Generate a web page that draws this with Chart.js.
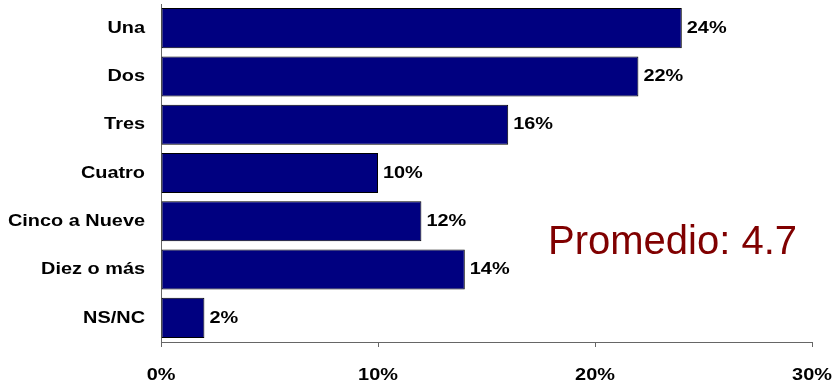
<!DOCTYPE html>
<html>
<head>
<meta charset="utf-8">
<script src="https://cdn.jsdelivr.net/npm/chart.js@4"></script>
<style>
    body { margin: 0; background: #fff; }
    #grafico { width: 835px; height: 385px; }
</style>
</head>
<body>
<div id="grafico"><canvas id="graficoHijos"></canvas></div>
<script>
const categorias = ['Una', 'Dos', 'Tres', 'Cuatro', 'Cinco a Nueve', 'Diez o más', 'NS/NC'];
const porcentajes = [24, 22, 16, 10, 12, 14, 2];
const ticksX = [0, 10, 20, 30];
const textoPromedio = 'Promedio: 4.7';

const fuente = "'Liberation Sans', Arial, sans-serif";
const estirar = 1.17; // el texto original sale un poco ensanchado

// escribe texto en negrita ensanchado horizontalmente
function textoAncho(ctx, texto, x, y, align) {
    ctx.save();
    ctx.translate(x, y);
    ctx.scale(estirar, 1);
    ctx.textAlign = align;
    ctx.textBaseline = 'middle';
    ctx.fillText(texto, 0, 0);
    ctx.restore();
}

// etiquetas de ejes, valores y el promedio
const etiquetasPlugin = {
    id: 'etiquetas',
    afterDraw(chart) {
        const ctx = chart.ctx;
        const meta = chart.getDatasetMeta(0);
        const escalaX = chart.scales.x;
        const escalaY = chart.scales.y;
        ctx.save();
        ctx.font = 'bold 17px ' + fuente;
        ctx.fillStyle = '#000';

        categorias.forEach((cat, i) => {
            textoAncho(ctx, cat, 145, escalaY.getPixelForValue(i), 'right');
        });

        ticksX.forEach(v => {
            textoAncho(ctx, v + '%', escalaX.getPixelForValue(v), 375, 'center');
        });

        meta.data.forEach((bar, i) => {
            textoAncho(ctx, porcentajes[i] + '%', bar.x + 5, bar.y, 'left');
        });

        ctx.font = '40px ' + fuente;
        ctx.fillStyle = '#800000';
        ctx.textAlign = 'left';
        ctx.textBaseline = 'alphabetic';
        ctx.fillText(textoPromedio, 548, 254);
        ctx.restore();
    }
};

const ctxBar = document.getElementById('graficoHijos').getContext('2d');
const graficoBarras = new Chart(ctxBar, {
    type: 'bar',
    data: {
        labels: categorias,
        datasets: [{
            data: porcentajes,
            backgroundColor: '#000080',
            borderColor: '#000000',
            borderWidth: 1,
            borderSkipped: false,
            categoryPercentage: 0.83,
            barPercentage: 1
        }]
    },
    options: {
        indexAxis: 'y',
        responsive: true,
        maintainAspectRatio: false,
        animation: false,
        layout: { padding: { top: 4, right: 23, left: 0, bottom: 0 } },
        plugins: {
            legend: { display: false },
            tooltip: { enabled: false }
        },
        scales: {
            x: {
                min: 0,
                max: 30,
                afterBuildTicks(scale) {
                    scale.ticks = ticksX.map(v => ({ value: v }));
                },
                afterFit(scale) {
                    scale.height = 43;
                    scale.paddingLeft = 0;
                    scale.paddingRight = 0;
                },
                ticks: { display: false },
                grid: {
                    drawOnChartArea: false,
                    drawTicks: true,
                    tickLength: 5,
                    color: '#666666'
                },
                border: { color: '#666666', width: 1 }
            },
            y: {
                afterFit(scale) {
                    scale.width = 161;
                    scale.paddingTop = 0;
                    scale.paddingBottom = 0;
                },
                ticks: { display: false },
                grid: { display: false, drawTicks: false },
                border: { color: '#666666', width: 1 }
            }
        }
    },
    plugins: [etiquetasPlugin]
});
</script>
</body>
</html>
